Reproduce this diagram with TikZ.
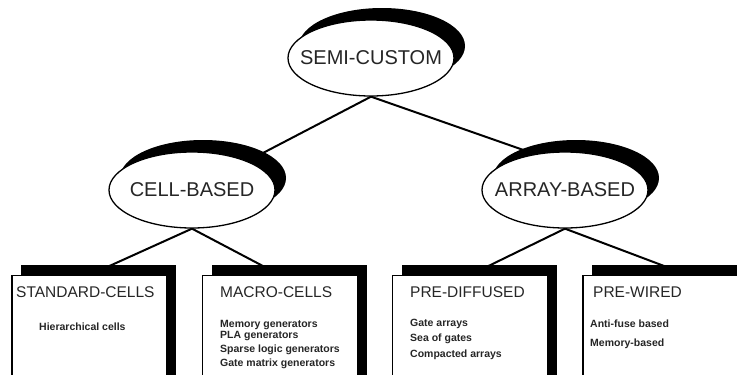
\documentclass[tikz,border=0pt]{standalone}
\usepackage{fontspec}
\setmainfont{Liberation Sans}
\usetikzlibrary{shapes.geometric,shadows,backgrounds}

\begin{document}
\begin{tikzpicture}
	[x=1pt,y=-1pt,
	 el/.style={ellipse,draw=black,line width=1.3pt,fill=white,minimum width=166pt,minimum height=76pt,inner sep=0pt,
		font=\fontsize{20}{24}\selectfont,text=black!85,
		general shadow={fill=black,shadow xshift=11pt,shadow yshift=12pt},
		execute at begin node={\hbox to 0pt\bgroup\hss},execute at end node={\hss\egroup}},
	 box/.style={rectangle,draw=black,line width=1.2pt,fill=white,minimum width=155pt,minimum height=130pt,anchor=north,
		general shadow={fill=black,shadow xshift=9pt,shadow yshift=11pt}},
	 ttl/.style={anchor=base west,inner sep=0pt,font=\fontsize{15.5}{18}\selectfont,text=black!85},
	 txt/.style={anchor=base west,inner sep=0pt,align=left,font=\bfseries\fontsize{10.5}{11}\selectfont,text=black!85},
	 con/.style={line width=2pt}]

	\useasboundingbox (0,0) rectangle (737,375);
	\clip (0,0) rectangle (737,375);

	\node[el] (semi) at (371,58) {SEMI-CUSTOM};

	\node[el] (cell) at (192,190) {CELL-BASED};

	\node[el] (array) at (565,190) {ARRAY-BASED};

	\node[box] (std) at (89.5,275) {};
	\node[box] (macro) at (280,275) {};
	\node[box] (prediff) at (470,275) {};
	\node[box,minimum width=210pt] (prewired) at (688,275) {};

	\node[ttl] (stdttl) at (16,297) {STANDARD-CELLS};
	\node[ttl] (macrottl) at (220,297) {MACRO-CELLS};
	\node[ttl] (prediffttl) at (410,297) {PRE-DIFFUSED};
	\node[ttl] (prewiredttl) at (593,297) {PRE-WIRED};

	% base of a text block = its last line
	\node[txt] (stdtxt) at (39,330) {Hierarchical cells};
	\node[txt] (macrotxt) at (220,366) {Memory generators\\PLA generators\\[3pt]Sparse logic generators\\[3pt]Gate matrix generators};
	\node[txt] (prediftxt) at (410,357) {Gate arrays\\[4pt]Sea of gates\\[5pt]Compacted arrays};
	\node[txt] (prewiredtxt) at (590,346) {Anti-fuse based\\[8pt]Memory-based};

		\begin{pgfonlayer}{background}
			\draw[con] (semi.south) -- (cell.center);
			\draw[con] (semi.south) -- (array.130);
			\draw[con] (cell.south) -- (std.north);
			\draw[con] (cell.south) -- (macro.north);
			\draw[con] (array.south) -- (prediff.north);
			\draw[con] (array.south) -- (prewired.north);
		\end{pgfonlayer}

\end{tikzpicture}
\end{document}
